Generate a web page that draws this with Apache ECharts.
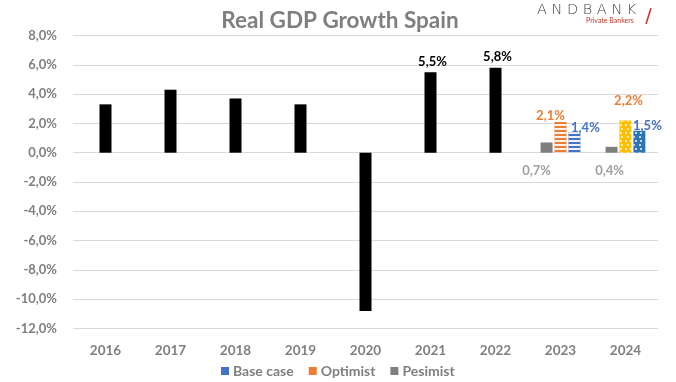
<!DOCTYPE html>
<html>
<head>
<meta charset="utf-8">
<script src="https://cdn.jsdelivr.net/npm/echarts@6/dist/echarts.min.js"></script>
<style>
html,body{margin:0;padding:0;background:#fff;}
#chart{width:676px;height:382px;}
</style>
</head>
<body>
<div id="chart"></div>
<script>
const years = ['2016','2017','2018','2019','2020','2021','2022','2023','2024'];
const actual = [3.3, 4.3, 3.7, 3.3, -10.8, 5.5, 5.8, null, null];
const pesimist = [null, null, null, null, null, null, null, 0.7, 0.4];
const optimist = [null, null, null, null, null, null, null, 2.1, 2.2];
const baseCase = [null, null, null, null, null, null, null, 1.4, 1.5];
const yTicks = {min: -12, max: 8, interval: 2};
const labelledActual = ['2021', '2022'];

const FONT = 'Lato';
const GREY = '#7f7f7f';
const fmt = v => v.toFixed(1).replace('.', ',') + '%';

const stripes = {symbol: 'rect', symbolSize: 1, dashArrayX: [1, 0], dashArrayY: [2, 1.5], color: 'rgba(255,255,255,0.9)', rotation: 0};
const dots = {symbol: 'circle', symbolSize: 1, dashArrayX: [[2, 2.5], [0, 2.25, 2, 0.25]], dashArrayY: [2, 1.2], color: 'rgba(255,255,255,0.95)', rotation: 0};

const chart = echarts.init(document.getElementById('chart'), null, {renderer: 'canvas'});

const actualData = actual.map((v, i) => {
  if (v === null) return null;
  const d = {value: v};
  if (labelledActual.includes(years[i])) d.label = {show: true, position: 'top', distance: 4, color: '#000', fontWeight: 'bold', fontSize: 13, fontFamily: FONT, offset: [2, 0], formatter: p => fmt(p.value)};
  return d;
});

const pesData = pesimist.map((v, i) => {
  if (v === null) return null;
  return {value: v, label: {offset: years[i] === '2023' ? [-10, 0] : [-2, 0]}};
});
const optData = optimist.map((v, i) => {
  if (v === null) return null;
  if (years[i] === '2023') return {value: v, itemStyle: {color: '#ED7D31', decal: stripes}, label: {offset: [-10, 2]}};
  return {value: v, itemStyle: {color: '#FFC000', decal: dots}, label: {offset: [3, -11]}};
});
const baseData = baseCase.map((v, i) => {
  if (v === null) return null;
  if (years[i] === '2023') return {value: v, itemStyle: {color: '#4472C4', decal: stripes}, label: {offset: [11, 4]}};
  return {value: v, itemStyle: {color: '#2E75B6', decal: dots}, label: {offset: [8, 4]}};
});

const option = {
  animation: false,
  backgroundColor: '#fff',
  title: {
    text: 'Real GDP Growth Spain',
    left: 335, textAlign: 'center', top: 4,
    textStyle: {fontFamily: FONT, fontWeight: 'bold', fontSize: 22.5, color: GREY}
  },
  legend: {
    data: ['Base case', 'Optimist', 'Pesimist'],
    left: 216, top: 359,
    icon: 'rect', itemWidth: 8, itemHeight: 8, itemGap: 15,
    textStyle: {fontFamily: FONT, fontWeight: 'bold', fontSize: 14, color: GREY, padding: [0, 0, 0, -1]}
  },
  grid: {left: 73, right: 18, top: 35.5, bottom: 53.5, containLabel: false},
  xAxis: [
    {type: 'category', data: years, position: 'bottom',
     axisLine: {show: false}, axisTick: {show: false},
     axisLabel: {fontFamily: FONT, fontWeight: 'bold', fontSize: 13.5, color: GREY, margin: 15}},
    {type: 'category', data: years, show: false}
  ],
  yAxis: {
    type: 'value', min: yTicks.min, max: yTicks.max, interval: yTicks.interval,
    axisLine: {show: false}, axisTick: {show: false},
    axisLabel: {fontFamily: FONT, fontWeight: 'bold', fontSize: 13, color: GREY, margin: 16, formatter: fmt},
    splitLine: {lineStyle: {color: '#d9d9d9', width: 1.2}}
  },
  graphic: [
    {type: 'text', left: 537, top: 3, style: {text: 'A N D B A N K', font: '300 14.5px "DejaVu Sans"', fill: '#444'}},
    {type: 'text', left: 586, top: 17, style: {text: 'Private Bankers', font: '7px Lato', fill: '#c0392b'}},
    {type: 'line', shape: {x1: 646, y1: 24, x2: 651, y2: 8}, style: {stroke: '#d0312d', lineWidth: 1.5}}
  ],
  series: [
    {name: 'Actual', type: 'bar', xAxisIndex: 0, data: actualData, barWidth: 12,
     itemStyle: {color: '#000'}},
    {name: 'Pesimist', type: 'bar', xAxisIndex: 1, data: pesData, barWidth: 12, barGap: '16%',
     itemStyle: {color: GREY},
     label: {show: true, position: 'bottom', distance: 12, color: '#a0a0a0', fontFamily: FONT, fontWeight: 'bold', fontSize: 13, formatter: p => fmt(p.value)}},
    {name: 'Optimist', type: 'bar', xAxisIndex: 1, data: optData, barWidth: 12, barGap: '16%',
     itemStyle: {color: '#ED7D31'},
     label: {show: true, position: 'top', distance: 2, color: '#ED7D31', fontFamily: FONT, fontWeight: 'bold', fontSize: 13, formatter: p => fmt(p.value)}},
    {name: 'Base case', type: 'bar', xAxisIndex: 1, data: baseData, barWidth: 12, barGap: '16%',
     itemStyle: {color: '#4472C4'},
     label: {show: true, position: 'top', distance: 2, color: '#4472C4', fontFamily: FONT, fontWeight: 'bold', fontSize: 13, formatter: p => fmt(p.value)}}
  ]
};
chart.setOption(option);
</script>
</body>
</html>
